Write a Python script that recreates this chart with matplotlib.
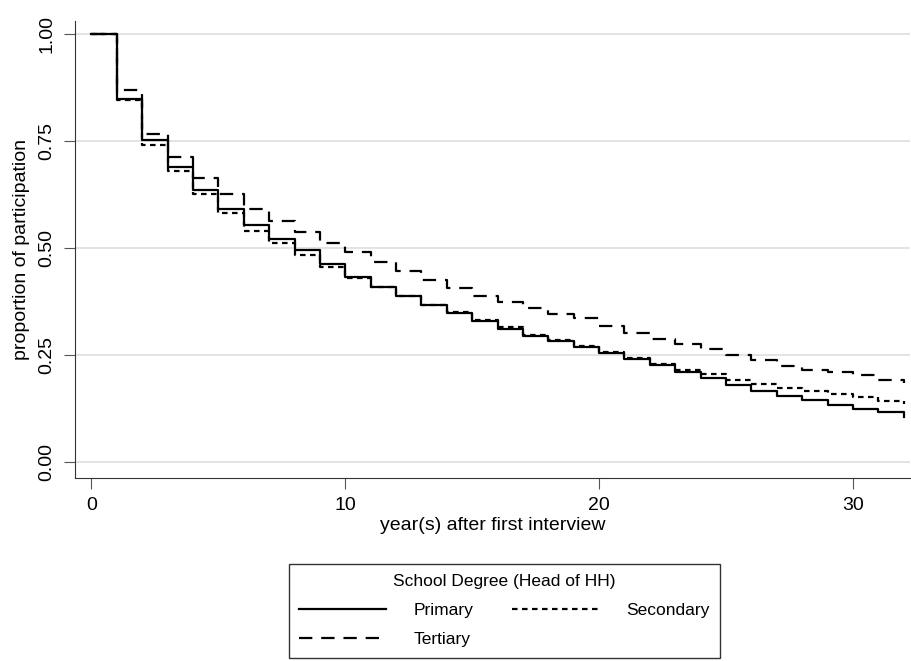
import matplotlib
matplotlib.use("Agg")
import matplotlib.pyplot as plt
import numpy as np
plt.rcParams['font.family'] = ['Liberation Sans', 'DejaVu Sans']

years = list(range(0, 33))
primary = [1.0,0.848,0.751,0.689,0.635,0.591,0.554,0.521,0.495,0.463,0.432,0.410,0.387,0.368,0.348,0.329,
           0.312,0.295,0.283,0.269,0.255,0.241,0.226,0.210,0.197,0.179,0.166,0.154,0.144,0.134,0.125,0.116,0.105]
secondary = [1.0,0.845,0.740,0.680,0.626,0.582,0.540,0.512,0.484,0.456,0.430,0.408,0.388,0.368,0.350,0.331,
             0.315,0.298,0.285,0.271,0.258,0.243,0.229,0.215,0.206,0.192,0.183,0.174,0.165,0.159,0.152,0.143,0.135]
tertiary = [1.0,0.868,0.767,0.712,0.663,0.625,0.591,0.562,0.538,0.512,0.490,0.467,0.446,0.426,0.407,0.389,
            0.373,0.361,0.346,0.336,0.319,0.302,0.287,0.276,0.264,0.251,0.238,0.224,0.215,0.210,0.203,0.192,0.185]

fig = plt.figure(figsize=(9.11, 6.61), dpi=100)
ax = fig.add_axes([75/911, 1-478/661, 835/911, 457/661])
lp, = ax.step(years, primary, where='post', color='black', lw=1.6, label='Primary')
ls, = ax.step(years, secondary, where='post', color='black', lw=1.6, ls=(0, (2.5, 2)), label='Secondary')
lt, = ax.step(years, tertiary, where='post', color='black', lw=1.6, ls=(0, (6, 4)), label='Tertiary')
ax.set_xlim(-0.65, 32.25)
ax.set_ylim(-0.037, 1.03)
ax.set_yticks([0, 0.25, 0.5, 0.75, 1.0])
ax.set_yticklabels(['0.00', '0.25', '0.50', '0.75', '1.00'], rotation=90, va='center', fontsize=14)
ax.set_xticks([0, 10, 20, 30])
ax.tick_params(axis='x', labelsize=14, color='#555555', length=8, pad=6)
ax.tick_params(axis='y', color='#555555', length=8, pad=6)
ax.grid(axis='y', color='#e0e0e0', lw=1.3)
ax.set_axisbelow(True)
for s in ['top', 'right']:
    ax.spines[s].set_visible(False)
for s in ['left', 'bottom']:
    ax.spines[s].set_color('#333333')
ax.set_xlabel('year(s) after first interview', fontsize=14, labelpad=2)
ax.set_ylabel('proportion of participation', fontsize=14, labelpad=6)
fig.legend(handles=[lp, lt, ls], ncol=2, title='School Degree (Head of HH)', loc='upper left',
           bbox_to_anchor=(280/911, 1-555/661), fontsize=12.5, title_fontsize=12.5, frameon=True,
           fancybox=False, edgecolor='black', handlelength=5, columnspacing=2.2, borderpad=0.6,
           labelspacing=0.8, handletextpad=1.6)
fig.savefig('out.png', dpi=100)
